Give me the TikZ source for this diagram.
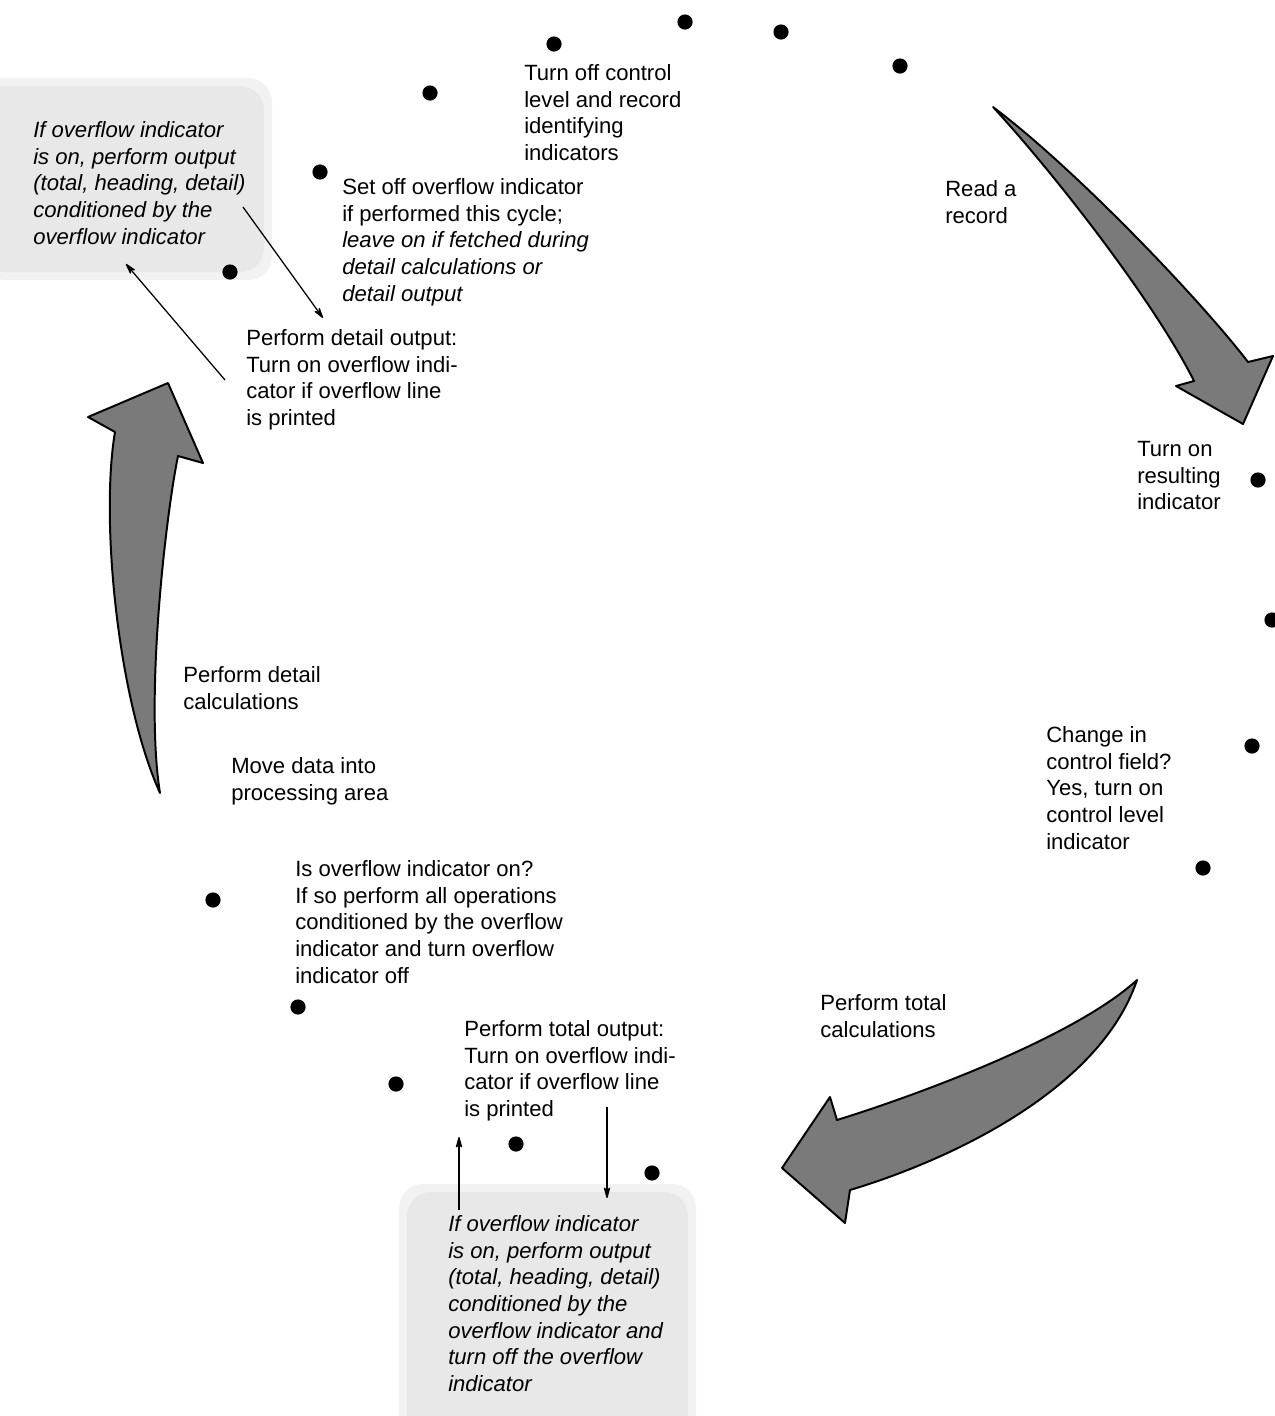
\documentclass[tikz,border=0pt]{standalone}
\usepackage{fontspec}
\setmainfont{Liberation Sans}
\usepackage{tikz}
\usetikzlibrary{positioning,calc,arrows.meta}

\begin{document}
\begin{tikzpicture}[x=0.025cm, y=-0.025cm, ->, >={Stealth[round, length=10pt, width=5.5pt]}, dot/.style = {circle, fill=black, inner sep=0pt, minimum size=0.38cm}, txt/.style = {anchor=north west, align=left, inner sep=0pt, font=\fontsize{15.7}{19}\selectfont}, haze/.style = {-, fill=black!9, draw=none, rounded corners=0.6cm}, fat/.style = {-, draw=black, line width=1.4pt, fill=black!52, line join=round}, every edge/.append style={line width=0.9pt}]

\useasboundingbox (0,0) rectangle (1275,1416);

% shaded notes
\fill[haze, fill=black!5] (-20,78) rectangle (272,280);
\fill[haze] (-20,86) rectangle (264,272);
\fill[haze, fill=black!5] (399,1184) rectangle (696,1440);
\fill[haze] (407,1192) rectangle (688,1440);

% dots round the cycle
\node[dot] (d1) at (685,22) {};
\node[dot] (d2) at (781,32) {};
\node[dot] (d3) at (900,66) {};
\node[dot] (d4) at (554,44) {};
\node[dot] (d5) at (430,93) {};
\node[dot] (d6) at (320,172) {};
\node[dot] (d7) at (230,272) {};
\node[dot] (d8) at (1258,480) {};
\node[dot] (d9) at (1272,620) {};
\node[dot] (d10) at (1252,746) {};
\node[dot] (d11) at (1203,868) {};
\node[dot] (d12) at (213,900) {};
\node[dot] (d13) at (298,1007) {};
\node[dot] (d14) at (396,1084) {};
\node[dot] (d15) at (516,1144) {};
\node[dot] (d16) at (652,1173) {};

% texts
\node[txt] (turnoff) at (524,64) {Turn off control\\level and record\\identifying\\indicators};
\node[txt] (readrec) at (945,180) {Read a\\record};
\node[txt] (setoff) at (342,178) {Set off overflow indicator\\if performed this cycle;\\\textit{leave on if fetched during}\\\textit{detail calculations or}\\\textit{detail output}};
\node[txt, font=\fontsize{15.7}{19}\selectfont\itshape] (noteL) at (33,121) {If overflow indicator\\is on, perform output\\(total, heading, detail)\\conditioned by the\\overflow indicator};
\node[txt] (detout) at (246,329) {Perform detail output:\\Turn on overflow indi-\\cator if overflow line\\is printed};
\node[txt] (turnres) at (1137,441) {Turn on\\resulting\\indicator};
\node[txt] (detcalc) at (183,666) {Perform detail\\calculations};
\node[txt] (movedata) at (231,757) {Move data into\\processing area};
\node[txt] (chgctl) at (1046,726) {Change in\\control field?\\Yes, turn on\\control level\\indicator};
\node[txt] (ovfchk) at (295,860) {Is overflow indicator on?\\If so perform all operations\\conditioned by the overflow\\indicator and turn overflow\\indicator off};
\node[txt] (totcalc) at (820,994) {Perform total\\calculations};
\node[txt] (totout) at (464,1020) {Perform total output:\\Turn on overflow indi-\\cator if overflow line\\is printed};
\node[txt, font=\fontsize{15.7}{19}\selectfont\itshape] (noteB) at (448,1215) {If overflow indicator\\is on, perform output\\(total, heading, detail)\\conditioned by the\\overflow indicator and\\turn off the overflow\\indicator};

% ends of the thin arrows
\coordinate (noteLout) at (243,207);
\coordinate (detoutin) at (323,318);
\coordinate (detoutout) at (225,380);
\coordinate (noteLin) at (126,264);
\coordinate (noteBout) at (459,1210);
\coordinate (totoutin) at (459,1137);
\coordinate (totoutout) at (607,1107);
\coordinate (noteBin) at (607,1198);

\path
 (noteLout) edge (detoutin)
 (detoutout) edge (noteLin)
 (noteBout) edge (totoutin)
 (totoutout) edge (noteBin);

% big curved arrows
\filldraw[fat] (993,107) .. controls (1073,167) and (1198,297) .. (1248,362) -- (1273,356) -- (1243,424) -- (1176,386) -- (1194,381) .. controls (1154,301) and (1053,172) .. cycle;
\filldraw[fat] (1137,980) .. controls (1077,1035) and (927,1092) .. (837,1120) -- (830,1097) -- (782,1168) -- (845,1223) -- (850,1190) .. controls (950,1160) and (1100,1090) .. cycle;
\filldraw[fat] (160,793) .. controls (118,700) and (100,520) .. (115,432) -- (88,417) -- (168,383) -- (203,463) -- (178,456) .. controls (165,520) and (145,700) .. cycle;
\end{tikzpicture}
\end{document}
